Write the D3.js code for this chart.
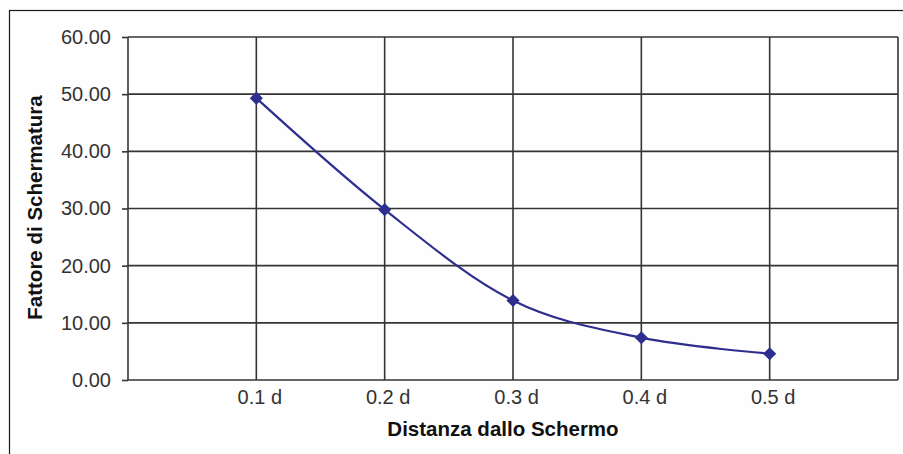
<!DOCTYPE html>
<html>
<head>
<meta charset="utf-8">
<script src="https://cdn.jsdelivr.net/npm/d3@7"></script>
<style>
  html, body { margin: 0; padding: 0; background: #ffffff; }
  svg { display: block; }
  text { font-family: "Liberation Sans", Arial, sans-serif; }
</style>
</head>
<body>
<svg id="chart" width="903" height="454"></svg>
<script>
// Shielding factor versus distance from the screen
const categories = ["0.1 d", "0.2 d", "0.3 d", "0.4 d", "0.5 d"];
const shieldingFactor = [49.3, 29.8, 13.9, 7.4, 4.6];
const yTickValues = [0, 10, 20, 30, 40, 50, 60];
const xTitle = "Distanza dallo Schermo";
const yTitle = "Fattore di Schermatura";

const svg = d3.select("#chart");
const W = 903, H = 454;
const plot = { left: 128, right: 898, top: 37, bottom: 380 };

svg.append("rect").attr("width", W).attr("height", H).attr("fill", "#fefefe");

// outer frame of the chart area
svg.append("rect")
  .attr("x", 9.5).attr("y", 10.5)
  .attr("width", W + 20).attr("height", H + 20)
  .attr("fill", "none").attr("stroke", "#1a1a1a").attr("stroke-width", 1.2);

// slots 0..6: categories sit on 1..5
const x = d3.scaleLinear().domain([0, categories.length + 1]).range([plot.left, plot.right]);
const y = d3.scaleLinear().domain([0, 60]).range([plot.bottom, plot.top]);

const gridColor = "#353535";

// horizontal grid + y ticks
const yAxis = d3.axisLeft(y)
  .tickValues(yTickValues)
  .tickSize(6)
  .tickPadding(11)
  .tickFormat(d3.format(".2f"));
const gy = svg.append("g").attr("transform", `translate(${plot.left},0)`).call(yAxis);
gy.select(".domain").remove();
gy.selectAll(".tick line").attr("stroke", gridColor).attr("stroke-width", 1.6);
gy.selectAll(".tick text")
  .attr("fill", "#333")
  .style("font-size", "20px");

svg.append("g").selectAll("line")
  .data(yTickValues)
  .join("line")
  .attr("x1", plot.left).attr("x2", plot.right)
  .attr("y1", d => y(d)).attr("y2", d => y(d))
  .attr("stroke", gridColor).attr("stroke-width", 1.6);

// vertical grid lines at every slot
svg.append("g").selectAll("line")
  .data(d3.range(0, categories.length + 2))
  .join("line")
  .attr("x1", d => x(d)).attr("x2", d => x(d))
  .attr("y1", plot.top).attr("y2", plot.bottom)
  .attr("stroke", gridColor).attr("stroke-width", 1.6);

// category labels
const xAxis = d3.axisBottom(x)
  .tickValues(d3.range(1, categories.length + 1))
  .tickSize(0)
  .tickPadding(10)
  .tickFormat(d => categories[d - 1]);
const gx = svg.append("g").attr("transform", `translate(0,${plot.bottom})`).call(xAxis);
gx.select(".domain").remove();
gx.selectAll(".tick text")
  .attr("fill", "#333")
  .attr("dx", 3)
  .style("font-size", "20px");

// smoothed series line
const pts = shieldingFactor.map((v, i) => [x(i + 1), y(v)]);
const lineColor = "#2e2e8f";
svg.append("path")
  .attr("d", d3.line().curve(d3.curveCardinal.tension(0))(pts))
  .attr("fill", "none")
  .attr("stroke", lineColor)
  .attr("stroke-width", 2.2);

// diamond markers
svg.append("g").selectAll("path")
  .data(shieldingFactor)
  .join("path")
  .attr("transform", (d, i) => `translate(${x(i + 1)},${y(d)})`)
  .attr("d", d3.symbol(d3.symbolDiamond2, 110)())
  .attr("fill", lineColor);

// axis titles
svg.append("text")
  .attr("x", 503).attr("y", 436)
  .attr("text-anchor", "middle")
  .style("font-size", "20.5px").style("font-weight", "bold")
  .attr("fill", "#111")
  .text(xTitle);

svg.append("text")
  .attr("transform", `translate(42,${(plot.top + plot.bottom) / 2 - 1}) rotate(-90)`)
  .attr("text-anchor", "middle")
  .style("font-size", "20.5px").style("font-weight", "bold")
  .attr("fill", "#111")
  .text(yTitle);
</script>
</body>
</html>
